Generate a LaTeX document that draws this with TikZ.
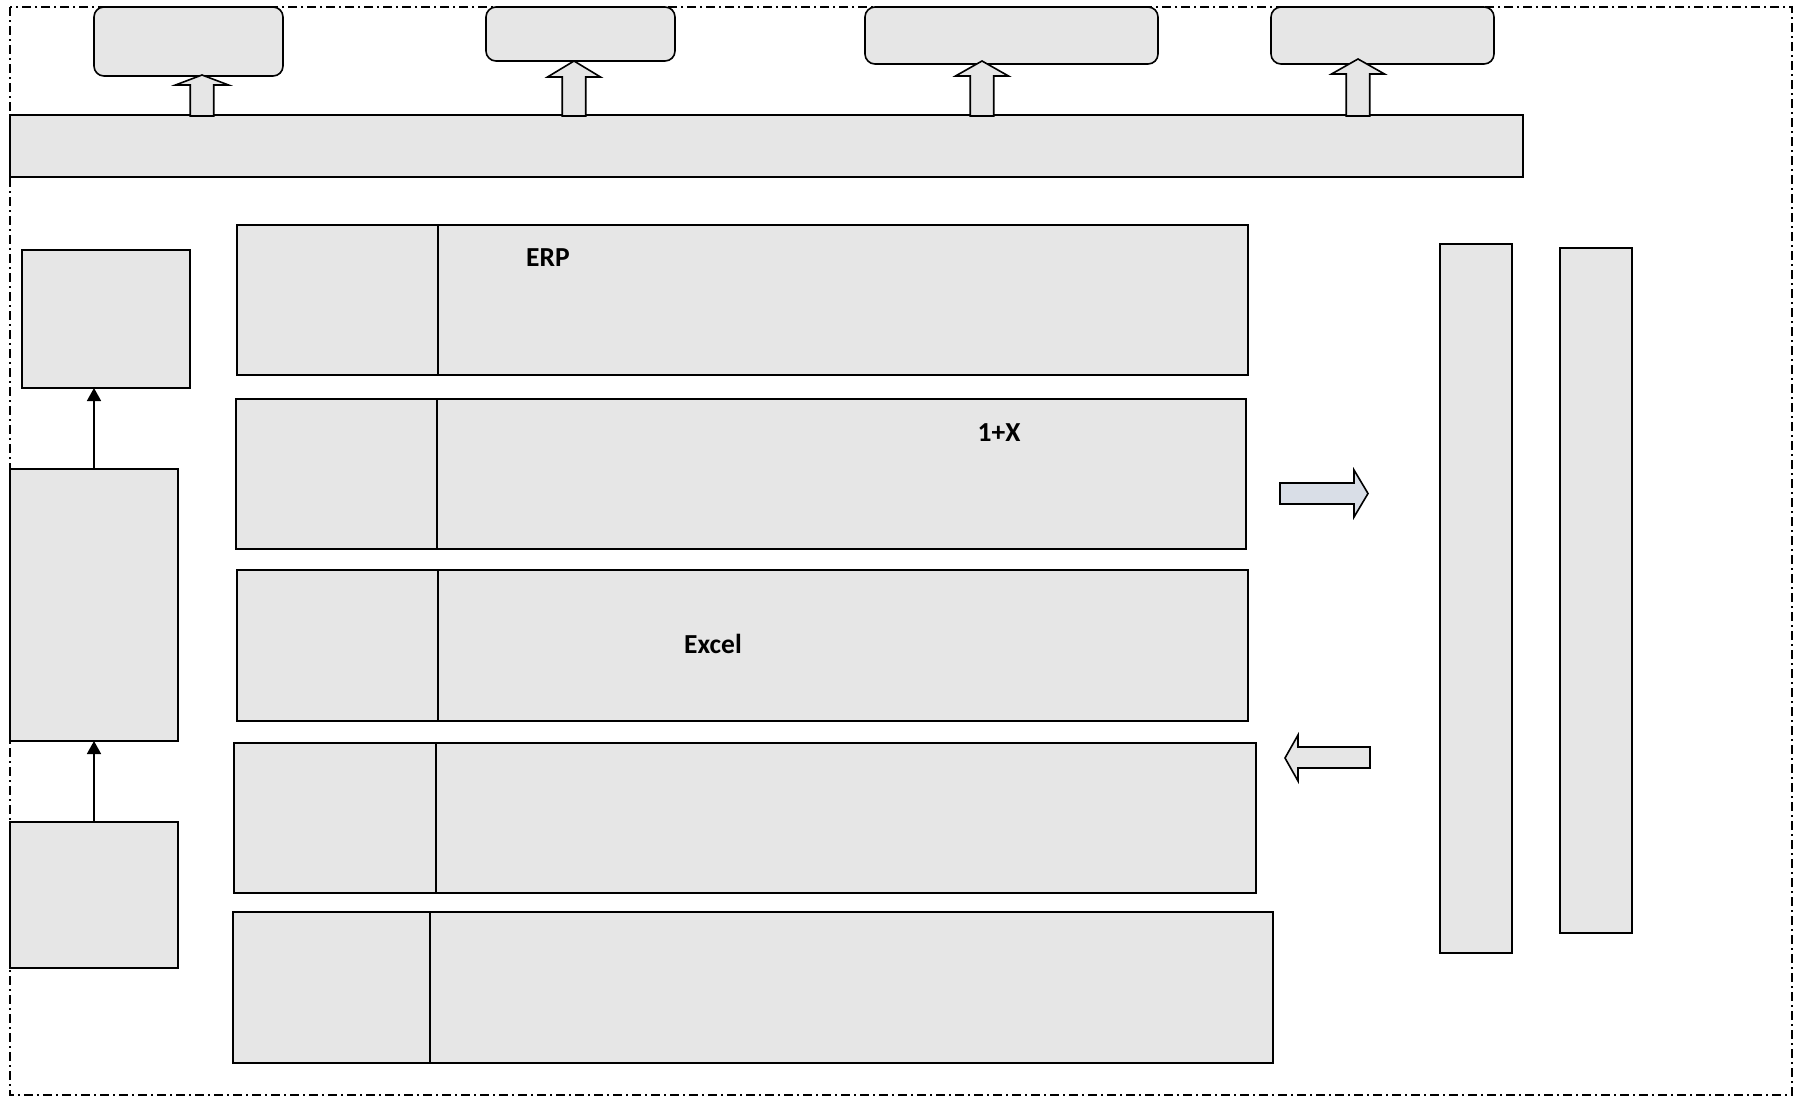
\documentclass[tikz,border=0pt]{standalone}
\usepackage{fontspec}
\setmainfont{Carlito}
\usetikzlibrary{arrows.meta,calc}
\definecolor{boxgray}{HTML}{E6E6E6}
\definecolor{arrblue}{HTML}{D9DEE7}
\newcommand\rectnode[6]{\node[#2, minimum width={#5pt-#3pt}, minimum height={#6pt-#4pt}] (#1) at ({(#3+#5)/2},{(#4+#6)/2}) {};}
\newcommand\blockup[4]{\draw[barrow] (#1-11.75,#4) -- (#1-11.75,#3) -- (#1-26.5,#3) -- (#1,#2) -- (#1+26.5,#3) -- (#1+11.75,#3) -- (#1+11.75,#4) -- cycle;}
\begin{document}
\begin{tikzpicture}[x=1pt,y=-1pt,
  box/.style={draw=black, fill=boxgray, line width=1.6pt, inner sep=0pt, outer sep=0pt},
  rbox/.style={box, rounded corners=10pt},
  barrow/.style={draw=black, fill=boxgray, line width=1.6pt, line join=miter},
  conn/.style={line width=1.6pt, -{Triangle[width=14pt,length=13pt]}},
  border/.style={draw=black, line width=1.6pt, dash pattern=on 9pt off 4pt on 2pt off 4pt},
  lbl/.style={font=\bfseries\fontsize{27.5}{32}\selectfont, inner sep=0pt}]
\useasboundingbox (0,0) rectangle (1798,1100);
\draw[border] (10,7) rectangle (1792,1095);
% top bar and boxes
\rectnode{bar}{box}{10}{115}{1523}{177}
\rectnode{t1}{rbox}{94}{7}{283}{76}
\rectnode{t2}{rbox}{486}{7}{675}{61}
\rectnode{t3}{rbox}{865}{7}{1158}{64}
\rectnode{t4}{rbox}{1271}{7}{1494}{64}
\blockup{202}{75}{85}{116}
\blockup{574}{61}{77}{116}
\blockup{982}{61}{76}{116}
\blockup{1358}{59}{74}{116}
% rows
\rectnode{r1a}{box}{237}{225}{438}{375}
\rectnode{r1b}{box}{438}{225}{1248}{375}
\rectnode{r2a}{box}{236}{399}{437}{549}
\rectnode{r2b}{box}{437}{399}{1246}{549}
\rectnode{r3a}{box}{237}{570}{438}{721}
\rectnode{r3b}{box}{438}{570}{1248}{721}
\rectnode{r4a}{box}{234}{743}{436}{893}
\rectnode{r4b}{box}{436}{743}{1256}{893}
\rectnode{r5a}{box}{233}{912}{430}{1063}
\rectnode{r5b}{box}{430}{912}{1273}{1063}
\node[lbl] (erp) at (548,258) {ERP};
\node[lbl] (onex) at (999,433) {1+X};
\node[lbl] (excel) at (713,644) {Excel};
% left column
\rectnode{l1}{box}{22}{250}{190}{388}
\rectnode{l2}{box}{10}{469}{178}{741}
\rectnode{l3}{box}{10}{822}{178}{968}
\draw[conn] (l2.north) -- (l2.north |- l1.south);
\draw[conn] (l3.north) -- (l2.south);
% right columns
\rectnode{c1}{box}{1440}{244}{1512}{953}
\rectnode{c2}{box}{1560}{248}{1632}{933}
% block arrows right side
\draw[barrow, fill=arrblue] (1280,483) -- (1354,483) -- (1354,470) -- (1368,493.5) -- (1354,517) -- (1354,504) -- (1280,504) -- cycle;
\draw[barrow] (1370,747) -- (1298,747) -- (1298,735) -- (1285,758) -- (1298,781) -- (1298,768) -- (1370,768) -- cycle;
\end{tikzpicture}
\end{document}
